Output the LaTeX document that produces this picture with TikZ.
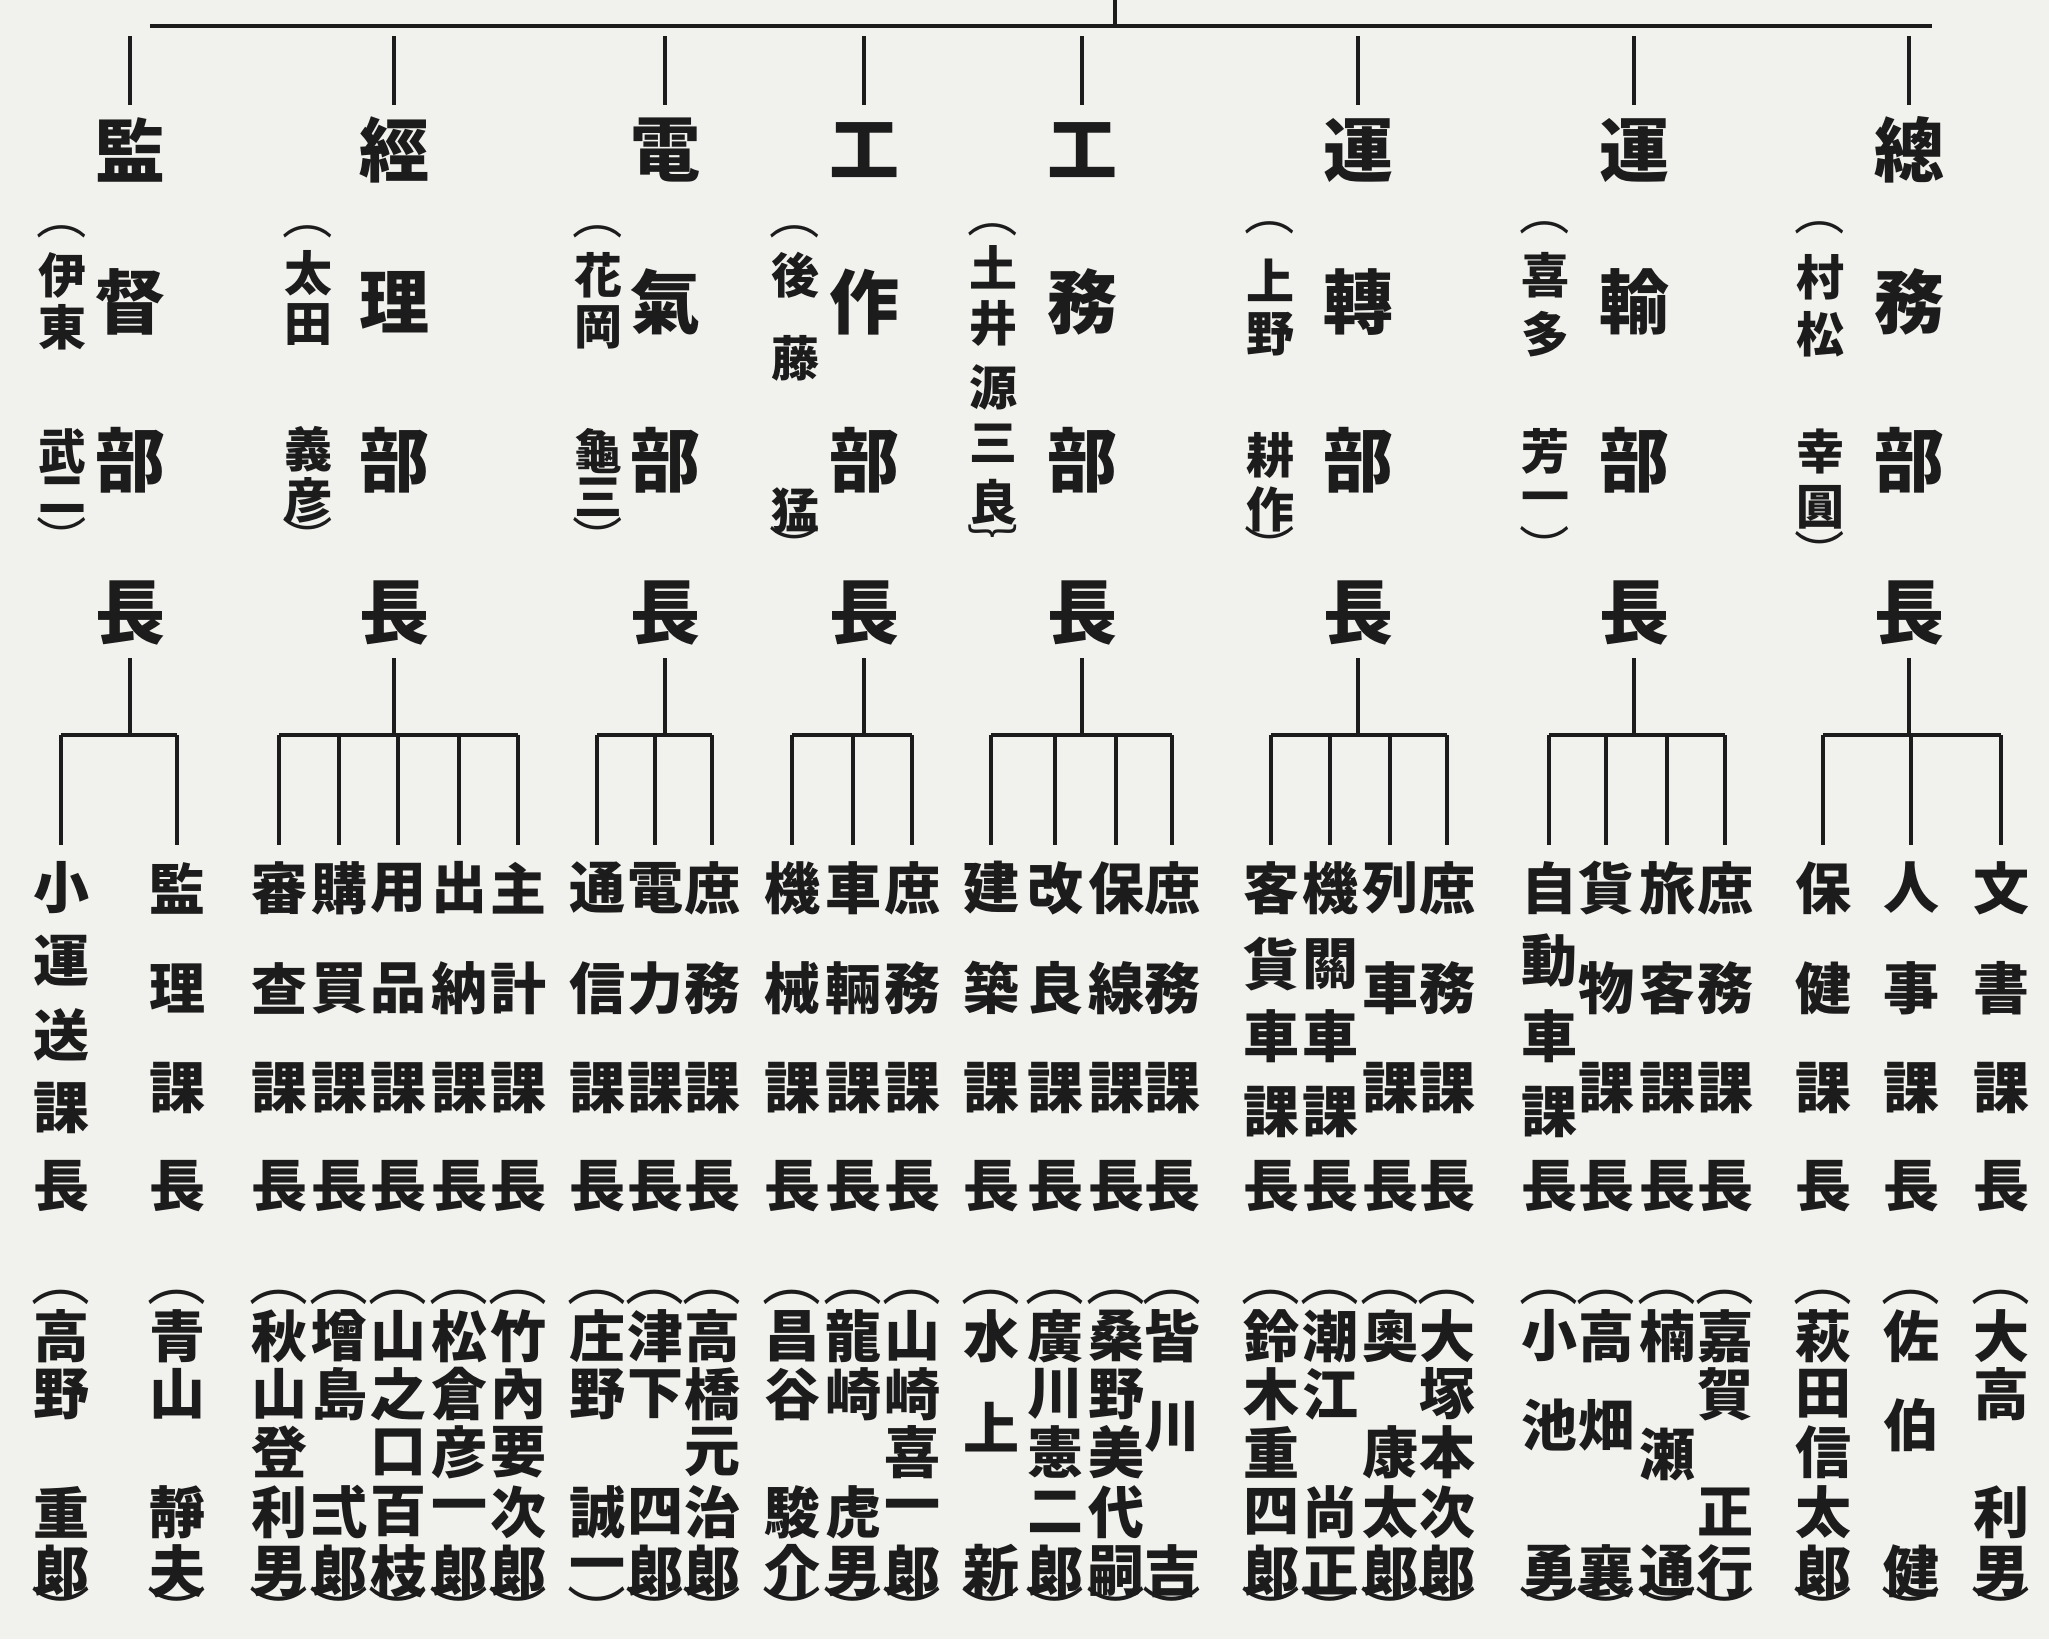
\documentclass[tikz,border=0pt]{standalone}
\usepackage{fontspec}
\newfontfamily\jp{Noto Sans CJK JP}
\definecolor{paper}{RGB}{241,241,238}
\definecolor{ink}{RGB}{28,28,28}
\newcommand\ob{{\mdseries\scalebox{1.05}[1]{︵}}}
\newcommand\cb{{\mdseries\scalebox{1.05}[1]{︶}}}
\newcommand\cbr{{\mdseries\scalebox{1.05}[1]{︸}}}
\tikzset{
  conn/.style={draw=ink, line width=3.2pt},
  bigch/.style={font=\jp\bfseries\fontsize{70}{70}\selectfont, text=ink, inner sep=0pt},
  topname/.style={font=\jp\bfseries\fontsize{48}{48}\selectfont, text=ink, inner sep=0pt},
  tch/.style={font=\jp\bfseries\fontsize{56}{56}\selectfont, text=ink, inner sep=0pt},
}
\newcommand\deptcol[5]{%
  \foreach \c/\y [count=\i] in {#4} \node[bigch] (m#1-\i) at (#2,\y) {\c};
  \foreach \c/\y [count=\i] in {#5} \node[topname] (p#1-\i) at (#3,\y) {\c};
}
\newcommand\sectcol[3]{%
  \foreach \c/\y [count=\i] in {#3} \node[tch] (s#1-\i) at (#2,\y) {\c};
  \draw[conn] (barY -| s#1-1) -- (lowY -| s#1-1);
}
\begin{document}
\begin{tikzpicture}[x=1pt,y=-1pt]
\useasboundingbox (0,0) rectangle (2049,1639);
\fill[paper] (0,0) rectangle (2049,1639);
\coordinate (topL) at (150,26);
\coordinate (topR) at (1932,26);
\coordinate (tick) at (1115,0);
\coordinate (hiA) at (0,36);
\coordinate (hiB) at (0,105);
\coordinate (pY) at (0,658);
\coordinate (barY) at (0,735);
\coordinate (lowY) at (0,845);
% departments
\deptcol{1}{130}{62}{監/150,督/302,部/460,長/613}{\ob/232,伊/275,東/327,武/451,二/495,\cb/537}
\deptcol{2}{394}{308}{經/150,理/302,部/460,長/613}{\ob/232,太/273,田/325,義/449,彦/500,\cb/537}
\deptcol{3}{665}{598}{電/150,氣/302,部/460,長/613}{\ob/232,花/275,岡/327,龜/451,三/497,\cb/537}
\deptcol{4}{864}{795}{工/150,作/302,部/460,長/613}{\ob/232,後/275,藤/358,猛/510,\cb/546}
\deptcol{5}{1082}{993}{工/150,務/302,部/460,長/613}{\ob/230,土/267,井/323,源/387,三/443,良/502,\cbr/545}
\deptcol{6}{1358}{1270}{運/150,轉/302,部/460,長/613}{\ob/228,上/280,野/334,耕/455,作/509,\cb/546}
\deptcol{7}{1634}{1545}{運/150,輸/302,部/460,長/613}{\ob/228,喜/275,多/334,芳/451,一/503,\cb/546}
\deptcol{8}{1909}{1820}{總/150,務/302,部/460,長/613}{\ob/228,村/277,松/334,幸/451,圓/507,\cb/551}
% top connectors
\draw[conn] (topL) -- (topR);
\draw[conn] (tick) -- (tick |- topL);
\foreach \k in {1,...,8} {
  \draw[conn] (hiA -| m\k-1) -- (hiB -| m\k-1);
  \draw[conn] (pY -| m\k-4) -- (barY -| m\k-4);
}
% sections
\sectcol{a1}{61}{小/888,運/961,送/1035,課/1108,長/1186,\ob/1297,高/1336,野/1394,重/1512,郞/1571,\cb/1610}
\sectcol{a2}{177}{監/888,理/988,課/1088,長/1186,\ob/1297,青/1336,山/1394,靜/1512,夫/1571,\cb/1610}
\sectcol{b1}{279}{審/888,查/988,課/1088,長/1186,\ob/1297,秋/1336,山/1394,登/1452,利/1512,男/1571,\cb/1610}
\sectcol{b2}{339}{購/888,買/988,課/1088,長/1186,\ob/1297,增/1336,島/1394,弍/1512,郞/1571,\cb/1610}
\sectcol{b3}{398}{用/888,品/988,課/1088,長/1186,\ob/1297,山/1336,之/1394,口/1452,百/1512,枝/1571,\cb/1610}
\sectcol{b4}{459}{出/888,納/988,課/1088,長/1186,\ob/1297,松/1336,倉/1394,彦/1452,一/1512,郞/1571,\cb/1610}
\sectcol{b5}{518}{主/888,計/988,課/1088,長/1186,\ob/1297,竹/1336,內/1394,要/1452,次/1512,郞/1571,\cb/1610}
\sectcol{c1}{597}{通/888,信/988,課/1088,長/1186,\ob/1297,庄/1336,野/1394,誠/1512,一/1571,\cb/1610}
\sectcol{c2}{655}{電/888,力/988,課/1088,長/1186,\ob/1297,津/1336,下/1394,四/1512,郞/1571,\cb/1610}
\sectcol{c3}{712}{庶/888,務/988,課/1088,長/1186,\ob/1297,高/1336,橋/1394,元/1452,治/1512,郞/1571,\cb/1610}
\sectcol{d1}{792}{機/888,械/988,課/1088,長/1186,\ob/1297,昌/1336,谷/1394,駿/1512,介/1571,\cb/1610}
\sectcol{d2}{853}{車/888,輛/988,課/1088,長/1186,\ob/1297,龍/1336,崎/1394,虎/1512,男/1571,\cb/1610}
\sectcol{d3}{912}{庶/888,務/988,課/1088,長/1186,\ob/1297,山/1336,崎/1394,喜/1452,一/1512,郞/1571,\cb/1610}
\sectcol{e1}{991}{建/888,築/988,課/1088,長/1186,\ob/1297,水/1336,上/1427,新/1571,\cb/1610}
\sectcol{e2}{1055}{改/888,良/988,課/1088,長/1186,\ob/1297,廣/1336,川/1394,憲/1452,二/1512,郞/1571,\cb/1610}
\sectcol{e3}{1116}{保/888,線/988,課/1088,長/1186,\ob/1297,桑/1336,野/1394,美/1452,代/1512,嗣/1571,\cb/1610}
\sectcol{e4}{1172}{庶/888,務/988,課/1088,長/1186,\ob/1297,皆/1336,川/1427,吉/1571,\cb/1610}
\sectcol{f1}{1271}{客/888,貨/964,車/1036,課/1112,長/1186,\ob/1297,鈴/1336,木/1394,重/1452,四/1512,郞/1571,\cb/1610}
\sectcol{f2}{1330}{機/888,關/964,車/1036,課/1112,長/1186,\ob/1297,潮/1336,江/1394,尚/1512,正/1571,\cb/1610}
\sectcol{f3}{1390}{列/888,車/988,課/1088,長/1186,\ob/1297,奧/1336,康/1452,太/1512,郞/1571,\cb/1610}
\sectcol{f4}{1447}{庶/888,務/988,課/1088,長/1186,\ob/1297,大/1336,塚/1394,本/1452,次/1512,郞/1571,\cb/1610}
\sectcol{g1}{1549}{自/888,動/961,車/1036,課/1112,長/1186,\ob/1297,小/1336,池/1425,勇/1571,\cb/1610}
\sectcol{g2}{1606}{貨/888,物/988,課/1088,長/1186,\ob/1297,高/1336,畑/1425,襄/1571,\cb/1610}
\sectcol{g3}{1667}{旅/888,客/988,課/1088,長/1186,\ob/1297,楠/1336,瀬/1455,通/1571,\cb/1610}
\sectcol{g4}{1725}{庶/888,務/988,課/1088,長/1186,\ob/1297,嘉/1336,賀/1394,正/1512,行/1571,\cb/1610}
\sectcol{h1}{1823}{保/888,健/988,課/1088,長/1186,\ob/1297,萩/1336,田/1394,信/1452,太/1512,郞/1571,\cb/1610}
\sectcol{h2}{1911}{人/888,事/988,課/1088,長/1186,\ob/1297,佐/1336,伯/1425,健/1571,\cb/1610}
\sectcol{h3}{2001}{文/888,書/988,課/1088,長/1186,\ob/1297,大/1336,高/1394,利/1512,男/1571,\cb/1610}
% bars
\draw[conn] (barY -| sa1-1) -- (barY -| sa2-1);
\draw[conn] (barY -| sb1-1) -- (barY -| sb5-1);
\draw[conn] (barY -| sc1-1) -- (barY -| sc3-1);
\draw[conn] (barY -| sd1-1) -- (barY -| sd3-1);
\draw[conn] (barY -| se1-1) -- (barY -| se4-1);
\draw[conn] (barY -| sf1-1) -- (barY -| sf4-1);
\draw[conn] (barY -| sg1-1) -- (barY -| sg4-1);
\draw[conn] (barY -| sh1-1) -- (barY -| sh3-1);
\end{tikzpicture}
\end{document}
